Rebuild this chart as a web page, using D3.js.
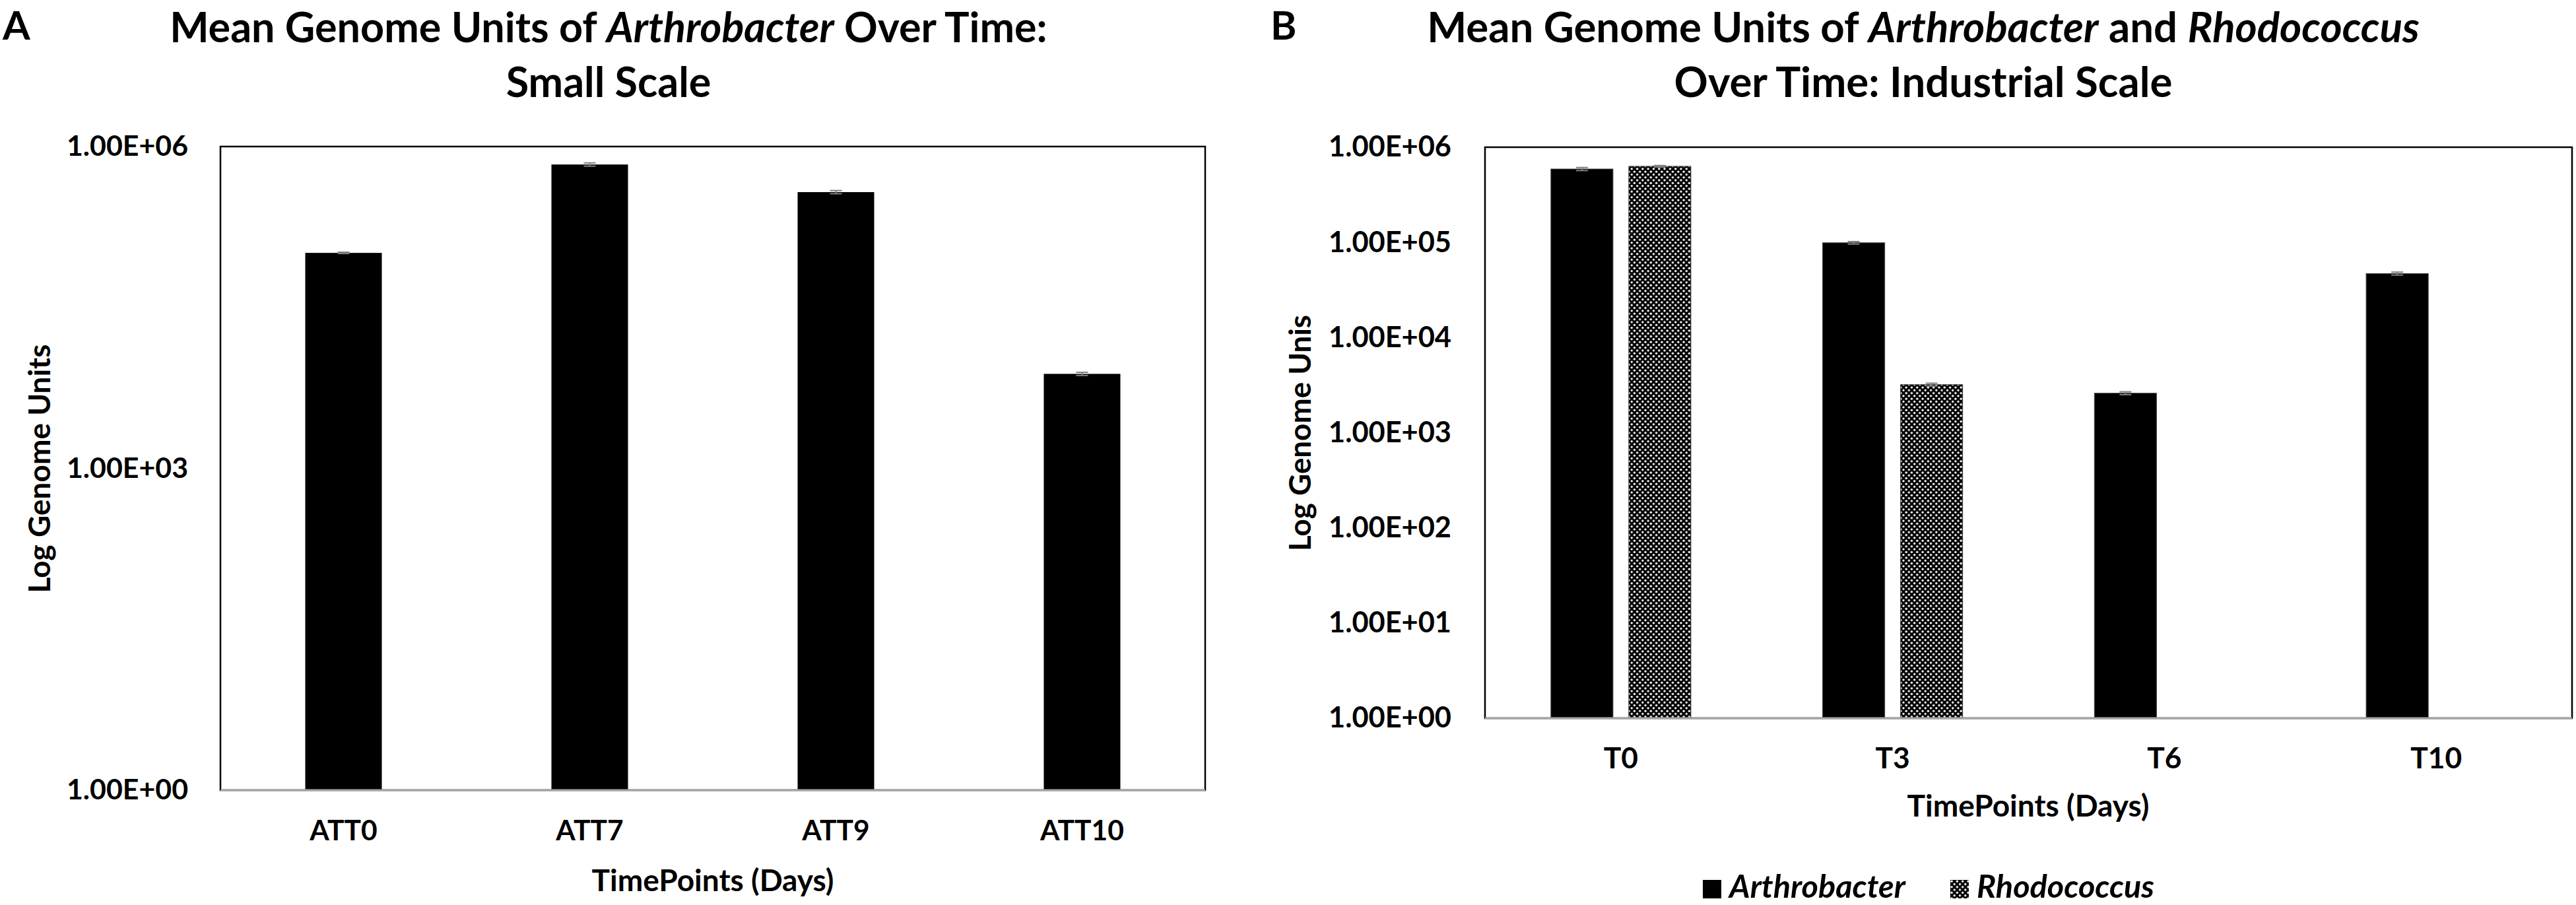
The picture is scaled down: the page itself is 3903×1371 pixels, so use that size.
<!DOCTYPE html>
<meta charset="utf-8">
<script src="https://d3js.org/d3.v7.min.js"></script>
<style>
  body { margin: 0; background: #fff; }
  text { font-family: Lato, 'Open Sans', sans-serif; font-weight: 700; fill: #000; }
</style>
<body>
<div id="my_dataviz"></div>
<script>

// Panel A - small scale (Arthrobacter only)
var catsA = ["ATT0", "ATT7", "ATT9", "ATT10"];
var arthroA = [1.02e5, 6.8e5, 3.76e5, 7.6e3];
var errA = [1.5e3, 2.4e4, 1.3e4, 2.6e2];
var ticksA = [1, 1e3, 1e6];

// Panel B - industrial scale
var catsB = ["T0", "T3", "T6", "T10"];
var seriesB = ["Arthrobacter", "Rhodococcus"];
var arthroB = [5.9e5, 9.9e4, 2.6e3, 4.7e4];
var rhodoB = [6.3e5, 3.2e3, null, null];
var errArthroB = [2.2e4, 3.0e3, 9e1, 1.7e3];
var errRhodoB = [1.2e4, 1.1e2, null, null];
var ticksB = [1, 1e1, 1e2, 1e3, 1e4, 1e5, 1e6];

var svg = d3.select("#my_dataviz")
  .append("svg")
    .attr("width", 3903)
    .attr("height", 1371);

// black fill with white dots for Rhodococcus
var pat = svg.append("defs").append("pattern")
    .attr("id", "dots")
    .attr("patternUnits", "userSpaceOnUse")
    .attr("width", 8.3)
    .attr("height", 8.6);
pat.append("rect").attr("width", 8.3).attr("height", 8.6).attr("fill", "#000");
pat.append("circle").attr("cx", 2.1).attr("cy", 2.2).attr("r", 1.7).attr("fill", "#fff");
pat.append("circle").attr("cx", 6.25).attr("cy", 6.5).attr("r", 1.7).attr("fill", "#fff");

// Excel style 1.00E+06
function fmtE(d) {
  var p = d.toExponential(2).toUpperCase().split("E");
  var e = +p[1];
  return p[0] + "E" + (e < 0 ? "-" : "+") + (Math.abs(e) < 10 ? "0" : "") + Math.abs(e);
}

// the original uses Calibri, so size the stand-in font by text width
function fitSize(node, w) {
  var fs = parseFloat(d3.select(node).style("font-size"));
  return fs * w / node.getComputedTextLength();
}

function title(cx, lines, w) {
  var ts = lines.map(function(segs, i) {
    var t = svg.append("text")
      .attr("x", cx)
      .attr("y", 64 + i * 83)
      .attr("text-anchor", "middle")
      .style("font-size", "60px");
    segs.forEach(function(s) {
      t.append("tspan").text(s[0]).style("font-style", s[1] ? "italic" : "normal");
    });
    return t;
  });
  var fs = fitSize(ts[0].node(), w);
  ts.forEach(function(t) { t.style("font-size", fs + "px"); });
}

function frame(left, right, top, bottom) {
  svg.append("rect")
    .attr("x", left).attr("y", top)
    .attr("width", right - left).attr("height", bottom - top)
    .attr("fill", "none").attr("stroke", "#000").attr("stroke-width", 2.5);
  svg.append("line")
    .attr("x1", left).attr("x2", right)
    .attr("y1", bottom).attr("y2", bottom)
    .attr("stroke", "#a6a6a6").attr("stroke-width", 3);
}

function errorBar(g, cx, y, v, e) {
  g.append("line").attr("x1", cx).attr("x2", cx).attr("y1", y(v - e)).attr("y2", y(v + e));
  g.append("line").attr("x1", cx - 9).attr("x2", cx + 9).attr("y1", y(v + e)).attr("y2", y(v + e));
  g.append("line").attr("x1", cx - 9).attr("x2", cx + 9).attr("y1", y(v - e)).attr("y2", y(v - e));
}

// size all labels of an axis from the width of one of them
function sizeAxis(g, label, w) {
  var texts = g.selectAll("text").style("font-family", null).style("font-size", "40px");
  var ref = texts.filter(function() { return this.textContent == label; }).node();
  var fs = fitSize(ref, w);
  texts.style("font-size", fs + "px");
}

function axisTitle(x, y, rot, txt, w) {
  var t = svg.append("text")
    .attr("transform", "translate(" + x + "," + y + ")" + (rot ? " rotate(-90)" : ""))
    .attr("text-anchor", "middle")
    .style("font-size", "40px")
    .text(txt);
  t.style("font-size", fitSize(t.node(), w) + "px");
}

// ---------------- Panel A ----------------
var xA = d3.scaleBand().domain(catsA).range([334, 1826]).paddingInner(0.689).paddingOuter(0.3445);
var yA = d3.scaleLog().domain([1, 1e6]).range([1197, 222]);

svg.append("g")
    .attr("transform", "translate(334,0)")
    .call(d3.axisLeft(yA).tickValues(ticksA).tickFormat(fmtE).tickSize(0).tickPadding(49))
    .call(function(g) { g.select(".domain").remove(); })
    .call(sizeAxis, "1.00E+06", 184);

svg.append("g")
    .attr("transform", "translate(0,1197)")
    .call(d3.axisBottom(xA).tickSize(0).tickPadding(46))
    .call(function(g) { g.select(".domain").remove(); })
    .call(sizeAxis, "ATT10", 127);

svg.append("g")
  .selectAll("rect")
  .data(catsA)
  .enter()
  .append("rect")
    .attr("x", function(d) { return xA(d); })
    .attr("width", xA.bandwidth())
    .attr("y", function(d, i) { return yA(arthroA[i]); })
    .attr("height", function(d, i) { return yA(1) - yA(arthroA[i]); })
    .attr("fill", "#000");

var ebA = svg.append("g").attr("stroke", "#808080").attr("stroke-width", 2);
catsA.forEach(function(c, i) {
  errorBar(ebA, xA(c) + xA.bandwidth() / 2, yA, arthroA[i], errA[i]);
});

frame(334, 1826, 222, 1197);

title(922, [
  [["Mean Genome Units of ", false], ["Arthrobacter", true], [" Over Time:", false]],
  [["Small Scale", false]]
], 1330);

axisTitle(76, 710, true, "Log Genome Units", 377);
axisTitle(1080, 1350, false, "TimePoints (Days)", 367);

svg.append("text").attr("x", 4).attr("y", 60).style("font-size", "60px").text("A");

// ---------------- Panel B ----------------
var xB = d3.scaleBand().domain(catsB).range([2250, 3897]).paddingInner(0.485).paddingOuter(0.2425);
var xSub = d3.scaleBand().domain(seriesB).range([0, xB.bandwidth()]).paddingInner(0.203);
var yB = d3.scaleLog().domain([1, 1e6]).range([1088, 223]);

svg.append("g")
    .attr("transform", "translate(2250,0)")
    .call(d3.axisLeft(yB).tickValues(ticksB).tickFormat(fmtE).tickSize(0).tickPadding(51))
    .call(function(g) { g.select(".domain").remove(); })
    .call(sizeAxis, "1.00E+06", 186);

svg.append("g")
    .attr("transform", "translate(0,1088)")
    .call(d3.axisBottom(xB).tickSize(0).tickPadding(45))
    .call(function(g) { g.select(".domain").remove(); })
    .call(sizeAxis, "T10", 78);

var groupsB = svg.append("g")
  .selectAll("g")
  .data(catsB)
  .enter()
  .append("g")
    .attr("transform", function(d) { return "translate(" + xB(d) + ",0)"; });

groupsB.selectAll("rect")
  .data(function(d, i) {
    return [
      {s: "Arthrobacter", v: arthroB[i], e: errArthroB[i]},
      {s: "Rhodococcus", v: rhodoB[i], e: errRhodoB[i]}
    ].filter(function(p) { return p.v != null; });
  })
  .enter()
  .append("rect")
    .attr("x", function(d) { return xSub(d.s); })
    .attr("width", xSub.bandwidth())
    .attr("y", function(d) { return yB(d.v); })
    .attr("height", function(d) { return yB(1) - yB(d.v); })
    .attr("fill", function(d) { return d.s == "Arthrobacter" ? "#000" : "url(#dots)"; })
    .attr("stroke", "#404040")
    .attr("stroke-width", 1);

var ebB = svg.append("g").attr("stroke", "#808080").attr("stroke-width", 2);
catsB.forEach(function(c, i) {
  var x0 = xB(c) + xSub.bandwidth() / 2;
  errorBar(ebB, x0 + xSub("Arthrobacter"), yB, arthroB[i], errArthroB[i]);
  if (rhodoB[i] != null) errorBar(ebB, x0 + xSub("Rhodococcus"), yB, rhodoB[i], errRhodoB[i]);
});

frame(2250, 3897, 223, 1088);

title(2914, [
  [["Mean Genome Units of ", false], ["Arthrobacter", true], [" and ", false], ["Rhodococcus", true]],
  [["Over Time: Industrial Scale", false]]
], 1504);

axisTitle(1986, 656, true, "Log Genome Unis", 358);
axisTitle(3073, 1237, false, "TimePoints (Days)", 367);

svg.append("text").attr("x", 1925).attr("y", 60).style("font-size", "60px").text("B");

// legend
var legX = [2580, 2955];
var leg = svg.append("g")
  .selectAll("g")
  .data(seriesB)
  .enter()
  .append("g")
    .attr("transform", function(d, i) { return "translate(" + legX[i] + ",1333)"; });
leg.append("rect")
    .attr("width", 28).attr("height", 28)
    .attr("fill", function(d, i) { return i == 0 ? "#000" : "url(#dots)"; });
leg.append("text")
    .attr("x", 40).attr("y", 27)
    .style("font-size", "38px")
    .style("font-style", "italic")
    .text(function(d) { return d; });
var legFs = fitSize(leg.select("text").node(), 267);
leg.selectAll("text").style("font-size", legFs + "px");

</script>
</body>
